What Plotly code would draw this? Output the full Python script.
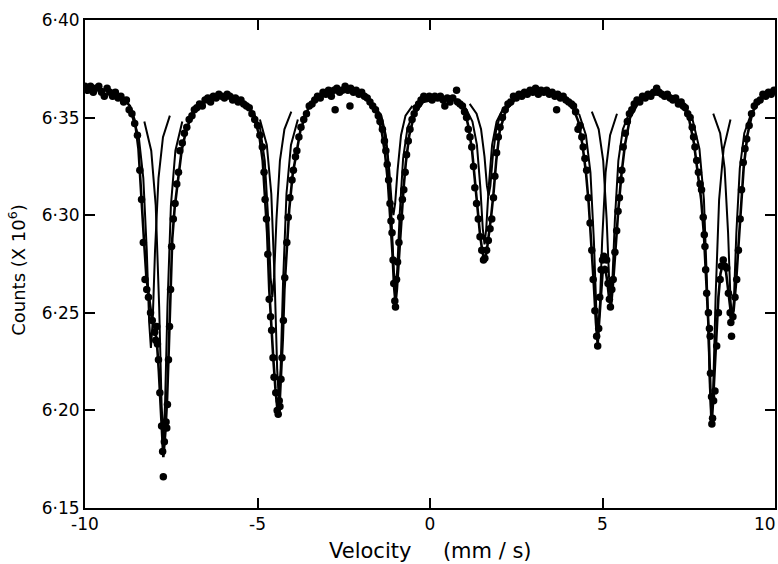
import plotly.graph_objects as go

# ---------------- data ----------------
# measured counts (x 10^6) vs velocity (mm/s)
dots_v = [
    -10.00, -9.92, -9.84, -9.76, -9.68, -9.60, -9.52, -9.44, -9.36, -9.28, -9.20, -9.12, -9.04, -8.96, -8.88, -8.80, -8.72, -8.64, -8.56,
    -8.48, -8.41, -8.36, -8.31, -8.26, -8.21, -8.16, -8.10, -8.05, -7.98, -7.95, -7.92, -7.90, -7.87, -7.83, -7.78, -7.75, -7.73, -7.70,
    -7.65, -7.63, -7.61, -7.58, -7.55, -7.52, -7.49, -7.44, -7.39, -7.34, -7.29, -7.25, -7.18, -7.12, -7.05, -6.98, -6.90, -6.83, -6.76,
    -6.68, -6.60, -6.52, -6.44, -6.36, -6.28, -6.20, -6.12, -6.04, -5.96, -5.88, -5.80, -5.72, -5.64, -5.56, -5.48, -5.40, -5.32, -5.24,
    -5.16, -5.08, -5.00,
    -4.93, -4.86, -4.81, -4.78, -4.74, -4.70, -4.66, -4.62, -4.59, -4.55, -4.52, -4.47, -4.43, -4.40, -4.37, -4.35, -4.32, -4.29, -4.25,
    -4.21, -4.15, -4.11, -4.06, -4.00, -3.96, -3.90, -3.86, -3.80, -3.74, -3.66, -3.58, -3.50,
    -3.42, -3.34, -3.26, -3.18, -3.10, -3.02, -2.94, -2.86, -2.78, -2.75, -2.70, -2.62, -2.54, -2.46, -2.38, -2.32, -2.30, -2.22, -2.14,
    -2.06, -1.98, -1.90, -1.82, -1.74,
    -1.66, -1.58, -1.50, -1.45, -1.38, -1.32, -1.28, -1.24, -1.20, -1.16, -1.13, -1.10, -1.07, -1.05, -1.02, -1.00, -0.97, -0.94, -0.90,
    -0.85, -0.80, -0.76, -0.72, -0.68, -0.63, -0.58, -0.52, -0.46, -0.40,
    -0.33, -0.26, -0.18, -0.10, -0.02, 0.06, 0.14, 0.22, 0.30, 0.38, 0.43, 0.50, 0.58, 0.66, 0.77, 0.80, 0.87,
    0.94, 1.00, 1.06, 1.11, 1.16, 1.21, 1.26, 1.30, 1.35, 1.40, 1.45, 1.50, 1.55, 1.59, 1.64, 1.69, 1.74, 1.79, 1.84, 1.88, 1.93, 1.98,
    2.03, 2.10, 2.18,
    2.26, 2.34, 2.42, 2.50, 2.58, 2.66, 2.74, 2.82, 2.90, 2.98, 3.06, 3.14, 3.22, 3.30, 3.38, 3.46, 3.54, 3.62, 3.67, 3.70, 3.78, 3.86,
    3.94, 4.02,
    4.10, 4.16, 4.22, 4.29, 4.35, 4.40, 4.44, 4.49, 4.54, 4.59, 4.64, 4.69, 4.73, 4.78, 4.83, 4.86, 4.89, 4.92, 4.96, 5.00, 5.04, 5.08,
    5.12, 5.16, 5.20, 5.23, 5.27, 5.31, 5.36, 5.41, 5.45, 5.49, 5.53, 5.56, 5.60, 5.66, 5.72, 5.78, 5.85, 5.92,
    6.00, 6.08, 6.16, 6.24, 6.32, 6.40, 6.48, 6.57, 6.64, 6.72, 6.80, 6.88, 6.96, 7.04, 7.12, 7.20, 7.28, 7.34,
    7.40, 7.47, 7.54, 7.60, 7.64, 7.68, 7.73, 7.78, 7.83, 7.87, 7.92, 7.95, 7.97, 7.99, 8.02, 8.07, 8.10, 8.12, 8.13, 8.16, 8.17, 8.19,
    8.22, 8.26, 8.31, 8.36, 8.41, 8.45, 8.50, 8.54, 8.60, 8.65, 8.70, 8.72, 8.74, 8.78, 8.84, 8.89, 8.94, 8.99, 9.03, 9.08, 9.13, 9.18,
    9.25, 9.32, 9.40, 9.48, 9.57, 9.65, 9.73, 9.81, 9.89, 9.97,
]
dots_c = [
    6.366, 6.364, 6.366, 6.363, 6.365, 6.366, 6.363, 6.361, 6.365, 6.363, 6.361, 6.363, 6.360, 6.361, 6.358, 6.359, 6.354, 6.352, 6.347,
    6.341, 6.323, 6.308, 6.286, 6.267, 6.262, 6.258, 6.250, 6.246, 6.240, 6.236, 6.243, 6.234, 6.226, 6.209, 6.192, 6.179, 6.166, 6.184,
    6.194, 6.191, 6.203, 6.226, 6.243, 6.262, 6.284, 6.298, 6.306, 6.316, 6.322, 6.333, 6.337, 6.342, 6.345, 6.349, 6.351, 6.354, 6.355,
    6.357, 6.356, 6.359, 6.360, 6.358, 6.361, 6.360, 6.362, 6.361, 6.360, 6.362, 6.361, 6.359, 6.360, 6.358, 6.359, 6.357, 6.356, 6.355,
    6.352, 6.349, 6.346,
    6.341, 6.335, 6.322, 6.308, 6.298, 6.280, 6.257, 6.248, 6.241, 6.227, 6.217, 6.209, 6.200, 6.198, 6.205, 6.202, 6.216, 6.227, 6.246,
    6.268, 6.286, 6.299, 6.309, 6.318, 6.323, 6.330, 6.333, 6.340, 6.345, 6.349, 6.352, 6.356,
    6.357, 6.359, 6.361, 6.360, 6.363, 6.362, 6.364, 6.361, 6.364, 6.354, 6.365, 6.363, 6.364, 6.366, 6.364, 6.356, 6.365, 6.363, 6.364,
    6.362, 6.363, 6.361, 6.360, 6.358,
    6.356, 6.354, 6.351, 6.348, 6.344, 6.338, 6.333, 6.326, 6.318, 6.306, 6.297, 6.291, 6.277, 6.265, 6.256, 6.253, 6.267, 6.276, 6.286,
    6.299, 6.308, 6.313, 6.322, 6.331, 6.338, 6.344, 6.349, 6.352, 6.355,
    6.357, 6.359, 6.361, 6.360, 6.361, 6.359, 6.361, 6.360, 6.361, 6.359, 6.356, 6.360, 6.358, 6.360, 6.364, 6.358, 6.357,
    6.356, 6.353, 6.350, 6.344, 6.340, 6.335, 6.325, 6.314, 6.306, 6.298, 6.289, 6.282, 6.277, 6.278, 6.282, 6.287, 6.293, 6.298, 6.309,
    6.320, 6.332, 6.340, 6.345, 6.350, 6.354,
    6.357, 6.358, 6.361, 6.360, 6.362, 6.361, 6.363, 6.362, 6.364, 6.363, 6.365, 6.362, 6.364, 6.363, 6.364, 6.362, 6.363, 6.361, 6.354,
    6.362, 6.360, 6.361, 6.359, 6.358,
    6.357, 6.356, 6.353, 6.344, 6.346, 6.340, 6.335, 6.329, 6.323, 6.309, 6.296, 6.282, 6.267, 6.251, 6.238, 6.233, 6.242, 6.258, 6.272,
    6.277, 6.279, 6.272, 6.277, 6.265, 6.257, 6.253, 6.262, 6.267, 6.281, 6.292, 6.302, 6.309, 6.318, 6.323, 6.335, 6.342, 6.348, 6.352,
    6.354, 6.357,
    6.359, 6.358, 6.361, 6.360, 6.362, 6.361, 6.363, 6.365, 6.363, 6.362, 6.361, 6.362, 6.360, 6.359, 6.360, 6.357, 6.358, 6.356,
    6.355, 6.352, 6.350, 6.345, 6.340, 6.335, 6.328, 6.322, 6.316, 6.313, 6.299, 6.290, 6.284, 6.272, 6.260, 6.250, 6.242, 6.238, 6.219,
    6.207, 6.193, 6.196, 6.205, 6.210, 6.233, 6.250, 6.267, 6.274, 6.277, 6.274, 6.273, 6.260, 6.250, 6.245, 6.238, 6.248, 6.258, 6.267,
    6.282, 6.298, 6.313, 6.327, 6.334, 6.339, 6.346, 6.352, 6.356, 6.358, 6.359, 6.362, 6.361, 6.363, 6.362, 6.364,
]

# total fitted curve
fit_v = [
    -10.0, -9.6, -9.2, -8.9, -8.7, -8.55, -8.45, -8.38, -8.3, -8.22, -8.14, -8.06, -7.98, -7.92, -7.86, -7.8, -7.73, -7.67,
    -7.62, -7.57, -7.52, -7.47, -7.4, -7.3, -7.2, -7.05, -6.8, -6.4, -6.0, -5.6, -5.3, -5.1, -4.95, -4.85, -4.78, -4.72,
    -4.66, -4.6, -4.54, -4.48, -4.41, -4.36, -4.32, -4.27, -4.22, -4.15, -4.08, -3.98, -3.88, -3.75, -3.5, -3.1, -2.6, -2.1,
    -1.8, -1.55, -1.4, -1.3, -1.22, -1.15, -1.09, -1.04, -1.0, -0.96, -0.9, -0.84, -0.77, -0.7, -0.6, -0.45, -0.2, 0.3,
    0.8, 1.0, 1.12, 1.22, 1.3, 1.38, 1.45, 1.52, 1.58, 1.64, 1.7, 1.77, 1.84, 1.92, 2.02, 2.2, 2.5, 3.0, 3.5, 3.9, 4.15,
    4.3, 4.42, 4.52, 4.6, 4.68, 4.75, 4.81, 4.86, 4.92, 5.0, 5.07, 5.14, 5.2, 5.25, 5.31, 5.38, 5.46, 5.55, 5.65, 5.8,
    6.05, 6.5, 7.0, 7.3, 7.5, 7.65, 7.76, 7.86, 7.94, 8.01, 8.07, 8.12, 8.16, 8.2, 8.25, 8.3, 8.36, 8.42, 8.5, 8.58, 8.66,
    8.74, 8.8, 8.87, 8.94, 9.01, 9.09, 9.2, 9.35, 9.6, 10.0,
]
fit_c = [
    6.365, 6.365, 6.363, 6.360, 6.356, 6.348, 6.334, 6.316, 6.290, 6.268, 6.256, 6.247, 6.242, 6.236, 6.220, 6.198, 6.176, 6.189,
    6.206, 6.232, 6.262, 6.288, 6.304, 6.320, 6.333, 6.345, 6.354, 6.360, 6.361, 6.360, 6.357, 6.350, 6.341, 6.328, 6.310, 6.291,
    6.262, 6.241, 6.226, 6.211, 6.198, 6.203, 6.215, 6.236, 6.262, 6.285, 6.303, 6.321, 6.332, 6.344, 6.356, 6.362, 6.364, 6.364,
    6.360, 6.353, 6.343, 6.331, 6.317, 6.300, 6.281, 6.263, 6.255, 6.262, 6.280, 6.297, 6.313, 6.327, 6.341, 6.352, 6.358, 6.360,
    6.359, 6.354, 6.345, 6.333, 6.318, 6.303, 6.290, 6.281, 6.277, 6.281, 6.289, 6.299, 6.311, 6.328, 6.343, 6.354, 6.360, 6.363, 6.363, 6.360, 6.355,
    6.348, 6.336, 6.322, 6.306, 6.285, 6.264, 6.245, 6.234, 6.250, 6.270, 6.274, 6.266, 6.256, 6.254, 6.266, 6.285, 6.303, 6.321, 6.336, 6.350,
    6.358, 6.362, 6.361, 6.358, 6.350, 6.337, 6.323, 6.308, 6.290, 6.268, 6.244, 6.216, 6.192, 6.203, 6.222, 6.241, 6.258, 6.270, 6.276, 6.271, 6.258,
    6.247, 6.251, 6.265, 6.284, 6.304, 6.324, 6.341, 6.353, 6.360, 6.364,
]

# component sub-spectra (two sextets), one arc per line, arcs separated by None
compA_v = [
    -8.28, -8.08, -7.95, -7.85, -7.78, -7.73, -7.68, -7.61, -7.51, -7.38, -7.18, None,
    -4.93, -4.73, -4.60, -4.50, -4.43, -4.38, -4.33, -4.26, -4.16, -4.03, -3.83, None,
    -1.55, -1.35, -1.22, -1.12, -1.05, -1.00, -0.95, -0.88, -0.78, -0.65, -0.45, None,
    1.03, 1.23, 1.36, 1.46, 1.53, 1.58, 1.63, 1.70, 1.80, 1.93, 2.13, None,
    4.32, 4.52, 4.65, 4.75, 4.82, 4.87, 4.92, 4.99, 5.09, 5.22, 5.42, None,
    7.61, 7.81, 7.94, 8.04, 8.11, 8.16, 8.21, 8.28, 8.38, 8.51, 8.71,
]
compA_c = [
    6.348, 6.333, 6.305, 6.253, 6.203, 6.185, 6.203, 6.253, 6.305, 6.333, 6.348, None,
    6.349, 6.336, 6.311, 6.265, 6.221, 6.205, 6.221, 6.265, 6.311, 6.336, 6.349, None,
    6.353, 6.345, 6.329, 6.300, 6.272, 6.262, 6.272, 6.300, 6.329, 6.345, 6.353, None,
    6.355, 6.348, 6.336, 6.314, 6.293, 6.285, 6.293, 6.314, 6.336, 6.348, 6.355, None,
    6.352, 6.341, 6.322, 6.287, 6.252, 6.240, 6.252, 6.287, 6.322, 6.341, 6.352, None,
    6.349, 6.334, 6.308, 6.259, 6.212, 6.195, 6.212, 6.259, 6.308, 6.334, 6.349,
]
compB_v = [
    -8.64, -8.44, -8.31, -8.21, -8.14, -8.09, -8.04, -7.97, -7.87, -7.74, -7.54, None,
    -5.12, -4.92, -4.79, -4.69, -4.62, -4.57, -4.52, -4.45, -4.35, -4.22, -4.02, None,
    -1.61, -1.41, -1.28, -1.18, -1.11, -1.06, -1.01, -0.94, -0.84, -0.71, -0.51, None,
    1.15, 1.35, 1.48, 1.58, 1.65, 1.70, 1.75, 1.82, 1.92, 2.05, 2.25, None,
    4.69, 4.89, 5.02, 5.12, 5.19, 5.24, 5.29, 5.36, 5.46, 5.59, 5.79, None,
    8.21, 8.41, 8.54, 8.64, 8.71, 8.76, 8.81, 8.88, 8.98, 9.11, 9.31,
]
compB_c = [
    6.351, 6.340, 6.319, 6.282, 6.245, 6.232, 6.245, 6.282, 6.319, 6.340, 6.351, None,
    6.353, 6.344, 6.328, 6.298, 6.268, 6.258, 6.268, 6.298, 6.328, 6.344, 6.353, None,
    6.356, 6.351, 6.341, 6.323, 6.306, 6.300, 6.306, 6.323, 6.341, 6.351, 6.356, None,
    6.357, 6.352, 6.344, 6.330, 6.315, 6.310, 6.315, 6.330, 6.344, 6.352, 6.357, None,
    6.353, 6.344, 6.328, 6.298, 6.268, 6.258, 6.268, 6.298, 6.328, 6.344, 6.353, None,
    6.352, 6.342, 6.324, 6.291, 6.257, 6.246, 6.257, 6.291, 6.324, 6.342, 6.352,
]

x_ticks = [-10, -5, 0, 5]
x_ticklabels = ["-10", "-5", "0", "5"]
x_edge_label = "10"   # the label at the right edge (x = 10) is placed as an annotation
y_ticks = [6.15, 6.20, 6.25, 6.30, 6.35, 6.40]
y_ticklabels = ["6\u00b715", "6\u00b720", "6\u00b725", "6\u00b730", "6\u00b735", "6\u00b740"]

# ---------------- figure ----------------
FONT = "DejaVu Sans, Liberation Sans, Arial, sans-serif"
fig = go.Figure()
fig.add_trace(go.Scatter(x=compA_v, y=compA_c, mode="lines", connectgaps=False,
                         line=dict(color="black", width=2), hoverinfo="skip", showlegend=False))
fig.add_trace(go.Scatter(x=compB_v, y=compB_c, mode="lines", connectgaps=False,
                         line=dict(color="black", width=2), hoverinfo="skip", showlegend=False))
fig.add_trace(go.Scatter(x=fit_v, y=fit_c, mode="lines",
                         line=dict(color="black", width=2.6), showlegend=False))
fig.add_trace(go.Scatter(x=dots_v, y=dots_c, mode="markers",
                         marker=dict(color="black", size=7.5, line=dict(width=0)), showlegend=False))

axis_common = dict(showgrid=False, zeroline=False, showline=True, linecolor="black", linewidth=2,
                   mirror="ticks", ticks="inside", ticklen=10, tickwidth=1.5, tickcolor="black",
                   automargin=False,
                   tickfont=dict(family=FONT, size=17, color="black"))
fig.update_xaxes(range=[-10, 10], tickmode="array", tickvals=x_ticks, ticktext=x_ticklabels, **axis_common)
fig.update_yaxes(range=[6.15, 6.40], tickmode="array", tickvals=y_ticks, ticktext=y_ticklabels, **axis_common)

fig.add_annotation(text=x_edge_label, xref="paper", yref="paper", x=1.0, y=-0.032,
                   xanchor="right", yanchor="middle", xshift=3, showarrow=False,
                   font=dict(family=FONT, size=17, color="black"))
fig.add_annotation(text="Counts (X 10<sup>6</sup>)", xref="paper", yref="paper",
                   x=-0.0986, y=0.488, textangle=-90, showarrow=False,
                   xanchor="center", yanchor="middle",
                   font=dict(family=FONT, size=18, color="black"))
fig.add_annotation(text="Velocity\u2003\u2002(mm / s)", xref="paper", yref="paper",
                   x=0.5, y=-0.088, showarrow=False, yanchor="middle",
                   font=dict(family=FONT, size=21, color="black"))

fig.update_layout(width=778, height=564, margin=dict(l=85, r=3, t=20, b=56),
                  plot_bgcolor="white", paper_bgcolor="white")
fig.write_html("out.html")
